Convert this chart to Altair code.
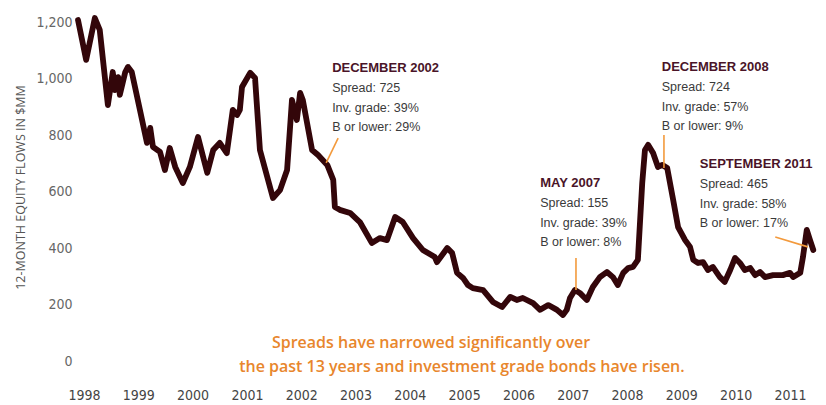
import altair as alt
import pandas as pd

# ---- line data (decimal year) ----
years = [1998.39, 1998.54, 1998.70, 1998.79, 1998.94, 1999.03, 1999.07, 1999.13, 1999.16, 1999.26,
         1999.31, 1999.38, 1999.53, 1999.66, 1999.72, 1999.77, 1999.90, 1999.99, 2000.08, 2000.18,
         2000.32, 2000.45, 2000.60, 2000.77, 2000.88, 2001.00, 2001.13, 2001.24, 2001.32, 2001.37,
         2001.41, 2001.56, 2001.65, 2001.74, 2001.98, 2002.11, 2002.24, 2002.33, 2002.42, 2002.48,
         2002.53, 2002.70, 2002.81, 2002.98, 2003.09, 2003.12, 2003.21, 2003.40, 2003.58, 2003.80,
         2003.95, 2004.08, 2004.23, 2004.37, 2004.56, 2004.74, 2004.96, 2005.00, 2005.19, 2005.28,
         2005.37, 2005.48, 2005.57, 2005.66, 2005.85, 2006.03, 2006.20, 2006.35, 2006.47, 2006.58,
         2006.77, 2006.90, 2007.05, 2007.21, 2007.32, 2007.39, 2007.45, 2007.54, 2007.63, 2007.76,
         2007.87, 2008.00, 2008.13, 2008.24, 2008.33, 2008.43, 2008.52, 2008.61, 2008.70, 2008.78,
         2008.83, 2008.89, 2008.98, 2009.07, 2009.15, 2009.24, 2009.35, 2009.44, 2009.57, 2009.66,
         2009.72, 2009.81, 2009.90, 2009.99, 2010.08, 2010.21, 2010.30, 2010.40, 2010.49, 2010.58,
         2010.67, 2010.77, 2010.86, 2010.95, 2011.04, 2011.19, 2011.37, 2011.50, 2011.56, 2011.69,
         2011.74, 2011.81, 2011.87, 2011.93]
values = [1207, 1066, 1214, 1172, 906, 1023, 959, 1005, 942, 1023,
          1041, 1023, 889, 772, 825, 758, 740, 676, 754, 687,
          630, 687, 793, 666, 747, 772, 736, 889, 871, 889,
          970, 1020, 1002, 747, 577, 605, 676, 924, 853, 949,
          924, 747, 729, 694, 641, 545, 535, 524, 492, 418,
          435, 428, 510, 492, 435, 393, 368, 350, 400, 382,
          312, 294, 269, 258, 251, 209, 191, 227, 216, 223,
          205, 181, 198, 181, 163, 181, 223, 251, 241, 216,
          262, 297, 315, 297, 269, 312, 329, 333, 358, 630,
          747, 765, 736, 687, 694, 683, 570, 474, 428, 404,
          358, 347, 350, 322, 333, 297, 280, 322, 365, 347,
          322, 329, 304, 315, 297, 304, 304, 312, 297, 312,
          368, 464, 428, 393]

year_labels = ["1998", "1999", "2000", "2001", "2002", "2003", "2004",
               "2005", "2006", "2007", "2008", "2009", "2010", "2011"]
y_ticks = [0, 200, 400, 600, 800, 1000, 1200]

# ---- annotations ----
ann_title = ["DECEMBER 2002", "MAY 2007", "DECEMBER 2008", "SEPTEMBER 2011"]
ann_spread = ["Spread: 725", "Spread: 155", "Spread: 724", "Spread: 465"]
ann_inv = ["Inv. grade: 39%", "Inv. grade: 39%", "Inv. grade: 57%", "Inv. grade: 58%"]
ann_low = ["B or lower: 29%", "B or lower: 8%", "B or lower: 9%", "B or lower: 17%"]
ann_x = [2003.07, 2006.90, 2009.14, 2009.84]
ann_y = [1037, 630, 1040, 697]

arrow_x = [2003.18, 2007.56, 2009.18, 2011.23]
arrow_y = [789, 365, 800, 439]
arrow_x2 = [2002.96, 2007.56, 2009.18, 2011.83]
arrow_y2 = [701, 251, 683, 404]

note_lines = ["Spreads have narrowed significantly over",
              "the past 13 years and investment grade bonds have risen."]
note_x = [2004.89, 2005.46]
note_y = [64, -21]

df = pd.DataFrame({"year": years, "value": values})
ann = pd.DataFrame({"x": ann_x, "y": ann_y, "title": ann_title,
                    "l1": ann_spread, "l2": ann_inv, "l3": ann_low})
arr = pd.DataFrame({"x": arrow_x, "y": arrow_y, "x2": arrow_x2, "y2": arrow_y2})
notes = pd.DataFrame({"x": note_x, "y": note_y, "t": note_lines})

COND = "Liberation Sans Narrow, Arial Narrow, DejaVu Sans Condensed, sans-serif"
ANN = "Liberation Sans, Arial, sans-serif"

xs = alt.Scale(domain=[1998.353, 2011.98], nice=False, zero=False)
ys = alt.Scale(domain=[0, 1200], nice=False)

tick_vals = [int(y) + 0.5 for y in year_labels]

x_axis = alt.Axis(values=tick_vals, labelExpr="floor(datum.value)", title=None,
                  domain=False, ticks=False, tickSize=0, grid=False,
                  labelFont=COND, labelFontSize=14, labelColor="#444444",
                  labelPadding=27, labelFlush=False, labelOverlap=False)
y_axis = alt.Axis(values=y_ticks, format=",d", title="12-MONTH EQUITY FLOWS IN $MM",
                  domain=False, ticks=False, tickSize=0, grid=False,
                  labelFont=COND, labelFontSize=14, labelColor="#666666", labelPadding=4,
                  titleFont="Open Sans", titleFontSize=12.5, titleFontWeight="normal",
                  titleColor="#555555", titleAngle=-90, titleX=-56, titleY=165,
                  titleAlign="center", titleBaseline="middle")

line = alt.Chart(df).mark_line(color="#33060a", strokeWidth=5.8, strokeJoin="round",
                                strokeCap="round").encode(
    x=alt.X("year:Q", scale=xs, axis=x_axis),
    y=alt.Y("value:Q", scale=ys, axis=y_axis),
)

arrows = alt.Chart(arr).mark_rule(color="#f39a3c", strokeWidth=1.6).encode(
    x=alt.X("x:Q", scale=xs), y=alt.Y("y:Q", scale=ys),
    x2="x2:Q", y2="y2:Q",
)

base = alt.Chart(ann).encode(x=alt.X("x:Q", scale=xs), y=alt.Y("y:Q", scale=ys))
titles = base.mark_text(align="left", baseline="middle", font=ANN, fontSize=13,
                        fontWeight="bold", color="#4a1428").encode(text="title:N")
l1 = base.mark_text(align="left", baseline="middle", font=ANN, fontSize=12.5,
                    color="#3a3a3a", dy=20).encode(text="l1:N")
l2 = base.mark_text(align="left", baseline="middle", font=ANN, fontSize=12.5,
                    color="#3a3a3a", dy=39.5).encode(text="l2:N")
l3 = base.mark_text(align="left", baseline="middle", font=ANN, fontSize=12.5,
                    color="#3a3a3a", dy=59).encode(text="l3:N")

note = alt.Chart(notes).mark_text(align="center", baseline="middle", font="Open Sans",
                                  fontSize=16, fontWeight=600, color="#e8862c").encode(
    x=alt.X("x:Q", scale=xs), y=alt.Y("y:Q", scale=ys), text="t:N")

chart = alt.layer(line, arrows, titles, l1, l2, l3, note).properties(
    width=740, height=339,
    autosize=alt.AutoSizeParams(type="none"),
    padding={"left": 76, "right": 10, "top": 22, "bottom": 44},
    background="white",
).configure_view(stroke=None)

chart.save("out.html", embed_options={"renderer": "svg", "actions": False})
